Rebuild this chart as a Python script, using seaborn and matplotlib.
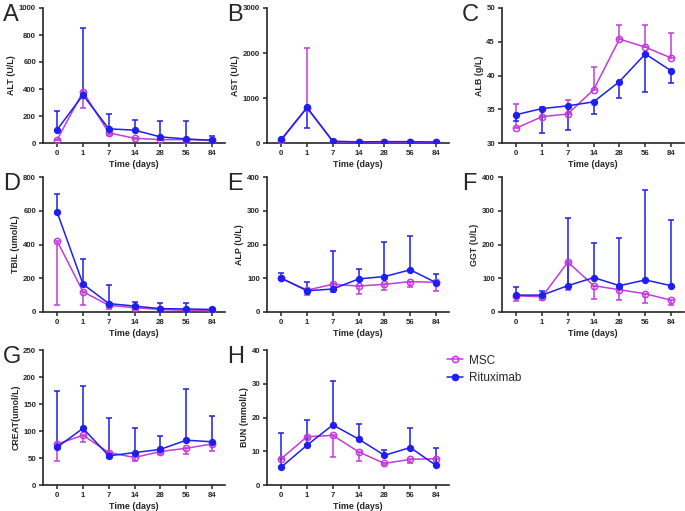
import numpy as np
import pandas as pd
import seaborn as sns
import matplotlib.pyplot as plt
from matplotlib.lines import Line2D

# time points (categorical axis)
days = ['0', '1', '7', '14', '28', '56', '84']

# panel values: mean and error-bar tip for each group
alt_msc = [25, 380, 75, 35, 25, 25, 20]
alt_msc_tip = [25, 260, 60, 30, 20, 20, 15]
alt_rit = [100, 355, 105, 95, 45, 30, 20]
alt_rit_tip = [235, 850, 215, 170, 160, 160, 50]

ast_msc = [60, 780, 30, 20, 20, 20, 15]
ast_msc_tip = [60, 2120, 30, 20, 20, 20, 15]
ast_rit = [80, 790, 40, 25, 30, 30, 20]
ast_rit_tip = [80, 340, 40, 25, 30, 30, 20]

alb_msc = [32.2, 33.9, 34.3, 37.9, 45.4, 44.2, 42.6]
alb_msc_tip = [35.8, 35.4, 36.3, 41.2, 47.5, 47.5, 46.3]
alb_rit = [34.2, 35.1, 35.5, 36.1, 39.1, 43.2, 40.7]
alb_rit_tip = [33.2, 31.5, 31.9, 34.3, 36.6, 37.5, 38.9]

tbil_msc = [420, 120, 40, 25, 15, 10, 8]
tbil_msc_tip = [40, 40, 15, 10, 5, 3, 2]
tbil_rit = [590, 165, 50, 35, 20, 18, 15]
tbil_rit_tip = [700, 315, 160, 60, 55, 52, 25]

alp_msc = [100, 65, 82, 77, 82, 90, 88]
alp_msc_tip = [100, 50, 60, 52, 65, 73, 62]
alp_rit = [100, 63, 68, 98, 105, 125, 87]
alp_rit_tip = [115, 88, 180, 126, 208, 226, 112]

ggt_msc = [48, 45, 148, 78, 66, 54, 35]
ggt_msc_tip = [33, 35, 65, 38, 36, 28, 20]
ggt_rit = [50, 50, 78, 102, 78, 95, 78]
ggt_rit_tip = [75, 62, 278, 205, 218, 360, 272]

creat_msc = [76, 92, 60, 51, 62, 68, 76]
creat_msc_tip = [45, 80, 50, 45, 58, 58, 63]
creat_rit = [70, 105, 54, 60, 66, 83, 80]
creat_rit_tip = [174, 183, 124, 106, 90, 177, 127]

bun_msc = [7.8, 14.3, 14.7, 9.8, 6.4, 7.6, 7.8]
bun_msc_tip = [7.8, 13.5, 8.2, 7.0, 6.0, 6.6, 6.6]
bun_rit = [5.3, 11.8, 17.8, 13.6, 8.8, 11.1, 5.8]
bun_rit_tip = [15.5, 19.3, 30.9, 18.0, 10.4, 17.0, 11.1]

MSC_COL = '#C23CDC'
RIT_COL = '#1E1EF0'

sns.set_style('ticks')
plt.rcParams['font.family'] = ['Liberation Sans', 'DejaVu Sans']

panels = [
    ('A', 'ALT (U/L)', alt_msc, alt_msc_tip, alt_rit, alt_rit_tip, (0, 1000), 200),
    ('B', 'AST (U/L)', ast_msc, ast_msc_tip, ast_rit, ast_rit_tip, (0, 3000), 1000),
    ('C', 'ALB (g/L)', alb_msc, alb_msc_tip, alb_rit, alb_rit_tip, (30, 50), 5),
    ('D', 'TBIL (umol/L)', tbil_msc, tbil_msc_tip, tbil_rit, tbil_rit_tip, (0, 800), 200),
    ('E', 'ALP (U/L)', alp_msc, alp_msc_tip, alp_rit, alp_rit_tip, (0, 400), 100),
    ('F', 'GGT (U/L)', ggt_msc, ggt_msc_tip, ggt_rit, ggt_rit_tip, (0, 400), 100),
    ('G', 'CREAT(umol/L)', creat_msc, creat_msc_tip, creat_rit, creat_rit_tip, (0, 250), 50),
    ('H', 'BUN (mmol/L)', bun_msc, bun_msc_tip, bun_rit, bun_rit_tip, (0, 40), 10),
]

W, H = 685, 511
lefts = [43, 267, 502]
tops = [8, 177, 350]
bottoms = [143, 312, 485]
ax_w = 182

fig = plt.figure(figsize=(6.85, 5.11), dpi=100)


def draw_err(ax, x, mean, tip, color):
    mean = np.array(mean, dtype=float)
    tip = np.array(tip, dtype=float)
    lo = np.clip(mean - tip, 0, None)
    hi = np.clip(tip - mean, 0, None)
    ax.errorbar(x, mean, yerr=[lo, hi], fmt='none', ecolor=color,
                elinewidth=1.1, capsize=2.5, capthick=1.1, zorder=2)


for i, (lab, ylab, msc, msc_tip, rit, rit_tip, ylim, step) in enumerate(panels):
    r, c = divmod(i, 3)
    ax = fig.add_axes([lefts[c] / W, 1 - bottoms[r] / H, ax_w / W,
                       (bottoms[r] - tops[r]) / H])
    x = np.arange(len(days))
    df = pd.DataFrame({'x': x, 'msc': msc, 'rit': rit})
    draw_err(ax, x, msc, msc_tip, MSC_COL)
    draw_err(ax, x, rit, rit_tip, RIT_COL)
    sns.lineplot(data=df, x='x', y='msc', ax=ax, color=MSC_COL, lw=1.1,
                 marker='o', markersize=4.5, markerfacecolor='none',
                 markeredgecolor=MSC_COL, markeredgewidth=1.1, zorder=3)
    sns.lineplot(data=df, x='x', y='rit', ax=ax, color=RIT_COL, lw=1.1,
                 marker='o', markersize=4.5, markerfacecolor=RIT_COL,
                 markeredgecolor=RIT_COL, zorder=4)
    ax.set_xlim(-0.55, 6.5)
    ax.set_ylim(*ylim)
    ax.set_yticks(np.arange(ylim[0], ylim[1] + step / 2, step))
    ax.set_xticks(x)
    ax.set_xticklabels(days)
    ax.set_xlabel('Time (days)', fontsize=6.4, fontweight='bold', labelpad=2)
    ax.set_ylabel(ylab, fontsize=6.4, fontweight='bold', labelpad=2)
    ax.tick_params(labelsize=5.6, width=1.1, length=3, pad=2)
    for t in ax.get_xticklabels() + ax.get_yticklabels():
        t.set_fontweight('bold')
    for s in ['left', 'bottom']:
        ax.spines[s].set_linewidth(1.2)
    sns.despine(ax=ax)
    fig.text((lefts[c] - 40) / W, 1 - (tops[r] + 7) / H, lab,
             fontsize=17, va='center', ha='left')

handles = [
    Line2D([], [], color=MSC_COL, lw=1.1, marker='o', markersize=4.5,
           markerfacecolor='none', markeredgewidth=1.1),
    Line2D([], [], color=RIT_COL, lw=1.1, marker='o', markersize=4.5),
]
fig.legend(handles, ['MSC', 'Rituximab'], loc='upper left',
           bbox_to_anchor=(436 / W, 1 - 344 / H), frameon=False,
           fontsize=8.5, handlelength=1.4, handletextpad=0.5,
           labelspacing=0.45)

fig.savefig('out.png', dpi=100)
